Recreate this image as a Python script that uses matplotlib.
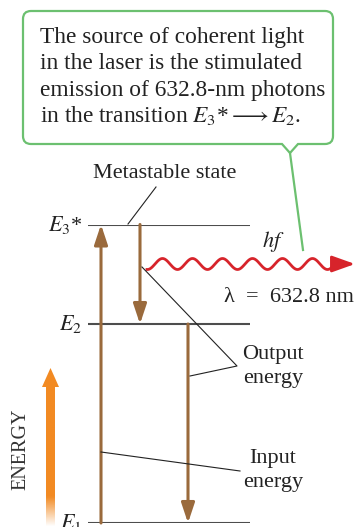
import numpy as np
import matplotlib
matplotlib.use('Agg')
import matplotlib.pyplot as plt
from matplotlib.path import Path
from matplotlib.patches import PathPatch, Polygon

plt.rcParams['font.family'] = ['Liberation Serif', 'DejaVu Serif']
plt.rcParams['mathtext.fontset'] = 'stix'

# energy levels (schematic units)
level_names = [r'$E_1$', r'$E_2$', r'$E_3$*']
level_energy = [0.0, 2.0, 3.0]
# transitions: (x position in px, from level, to level)
transitions = [(101, 0, 2), (140, 2, 1), (188, 1, 0)]
box_lines = ['The source of coherent light',
             'in the laser is the stimulated',
             'emission of 632.8-nm photons',
             r'in the transition $E_3$*$\longrightarrow$$E_2$.']
wavelength_label = 'λ  =  632.8 nm'

W, H = 355, 527
fig = plt.figure(figsize=(W / 100, H / 100), dpi=100)

# main axes in energy units: E1 at y=523 px, 99.5 px per unit
px_per_unit = 99.5
e1_px = 523
ax = fig.add_axes([0, (H - e1_px) / H, 1, 3 * px_per_unit / H])
ax.set_xlim(0, W)
ax.set_ylim(0, 3)
ax.axis('off')

# overlay axes in pixel coordinates
ov = fig.add_axes([0, 0, 1, 1], zorder=3)
ov.set_xlim(0, W)
ov.set_ylim(H, 0)
ov.axis('off')
ov.patch.set_alpha(0)

brown = '#9a6a3c'
green = '#6cc070'
red = '#d7242b'

ax.hlines(level_energy, 88, 250, color='#4d4d4d', lw=1.5)
for name, e in zip(level_names, level_energy):
    ax.text(82, e, name, ha='right', va='center', fontsize=16, color='#222222')

for x, a, b in transitions:
    ax.annotate('', xy=(x, level_energy[b]), xytext=(x, level_energy[a]),
                arrowprops=dict(arrowstyle='-|>,head_length=12,head_width=4',
                                mutation_scale=1, color=brown, lw=2.2,
                                shrinkA=0, shrinkB=0), zorder=2)

# callout box
l, r, t, b, rad = 23, 333, 11, 144, 8
verts = [(l + rad, t), (r - rad, t), (r, t), (r, t + rad), (r, b - rad), (r, b), (r - rad, b),
         (298, b), (290, 153), (282, b), (l + rad, b), (l, b), (l, b - rad), (l, t + rad),
         (l, t), (l + rad, t), (l + rad, t)]
codes = [Path.MOVETO, Path.LINETO, Path.CURVE3, Path.CURVE3, Path.LINETO, Path.CURVE3, Path.CURVE3,
         Path.LINETO, Path.LINETO, Path.LINETO, Path.LINETO, Path.CURVE3, Path.CURVE3, Path.LINETO,
         Path.CURVE3, Path.CURVE3, Path.CLOSEPOLY]
ov.add_patch(PathPatch(Path(verts, codes), facecolor='white', edgecolor=green, lw=1.6))
ov.plot([290, 303], [153, 250], color=green, lw=1.6)
for i, line in enumerate(box_lines):
    ov.text(40, 43 + 26.3 * i, line, fontsize=16.8, color='#222222', va='baseline')

# photon wave
xw = np.linspace(147, 333, 400)
yw = 264 - 5.5 * np.sin(2 * np.pi * (xw - 155) / 30)
ov.plot(xw, yw, color=red, lw=2.0)
ov.annotate('', xy=(355, 264), xytext=(333, 264),
            arrowprops=dict(arrowstyle='-|>,head_length=14,head_width=5', mutation_scale=1,
                            color=red, lw=2.0, shrinkA=0, shrinkB=0))
ov.text(273, 247, r'$hf$', fontsize=16, ha='center', va='baseline', color='#222222')
ov.text(289, 302, wavelength_label, fontsize=16, ha='center', va='baseline', color='#222222')

# labels and leader lines
ov.text(165, 178, 'Metastable state', fontsize=16, ha='center', va='baseline', color='#222222')
ov.plot([128, 156], [224, 187], color='#222222', lw=0.8)
ov.text(273, 359, 'Output', fontsize=16, ha='center', va='baseline', color='#222222')
ov.text(273, 383, 'energy', fontsize=16, ha='center', va='baseline', color='#222222')
ov.plot([142, 237, 190], [267, 366, 376], color='#222222', lw=0.8)
ov.text(273, 463, 'Input', fontsize=16, ha='center', va='baseline', color='#222222')
ov.text(273, 487, 'energy', fontsize=16, ha='center', va='baseline', color='#222222')
ov.plot([101, 240], [452, 471], color='#222222', lw=0.8)

# ENERGY arrow with faded tail
arrow = Polygon([(46, 527), (46, 387), (42, 387), (50.5, 368), (59, 387), (55, 387), (55, 527)],
                closed=True, facecolor='none', edgecolor='none')
ov.add_patch(arrow)
grad = np.ones((100, 1, 4))
grad[..., :3] = matplotlib.colors.to_rgb('#f28a22')
alpha = np.clip((527 - np.linspace(365, 527, 100)) / 30, 0, 1)
grad[:, 0, 3] = alpha
im = ov.imshow(grad, extent=(40, 61, 527, 365), aspect='auto', interpolation='bilinear', zorder=2)
im.set_clip_path(arrow)
ov.set_xlim(0, W)
ov.set_ylim(H, 0)
ov.text(21, 449, 'ENERGY', rotation=90, fontsize=14.5, ha='center', va='center', color='#333333')

fig.savefig('out.png', dpi=100)
